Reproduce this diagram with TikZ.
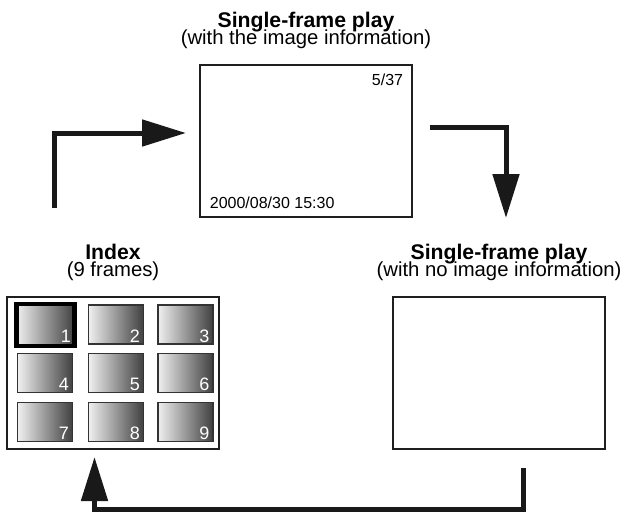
\documentclass[tikz,border=0pt]{standalone}
\usepackage{fontspec}
\setmainfont{Liberation Sans}
\usetikzlibrary{positioning,arrows.meta}

\begin{document}
\begin{tikzpicture}[
  x=1pt,y=-1pt,
  font=\fontsize{16}{19}\selectfont,
  screen/.style={draw=black!88,line width=2.6pt,minimum width=212pt,minimum height=152pt,inner sep=0pt},
  thumb/.style={draw=black!80,line width=1.4pt,left color=black!6,right color=black!75,minimum width=55pt,minimum height=39pt,inner sep=0pt,outer sep=0pt},
  thumbSel/.style={thumb,draw=black,line width=4.2pt,minimum width=58pt,minimum height=42pt},
  thumbNum/.style={anchor=south east,inner xsep=3.5pt,inner ysep=1.5pt,white,font=\fontsize{18}{20}\selectfont},
  caption/.style={align=center,inner sep=0pt,font=\fontsize{20.3}{17}\selectfont\setlength\lineskiplimit{-20pt}},
  info/.style={inner sep=0pt},
  flow/.style={draw=black!90,line width=5pt,-{Triangle[length=44pt,width=26pt]}}
]
\useasboundingbox (0,0) rectangle (632,512);
\node[screen] (play) at (306,141) {};
\node[screen] (plain) at (499,373) {};
\node[screen] (index) at (113,373) {};
\node[caption,above=15pt of play] (playCap) {{\bfseries\fontsize{21.2}{17}\selectfont Single-frame play}\\(with the image information)};
\node[caption,above=15pt of plain] (plainCap) {{\bfseries\fontsize{21.2}{17}\selectfont Single-frame play}\\(with no image information)};
\node[caption,above=15pt of index] (indexCap) {{\bfseries\fontsize{21.2}{17}\selectfont Index}\\(9 frames)};
\node[info,below left=10pt and 10pt of play.north east] (frameNo) {5/37};
\node[info,above right=9pt and 11pt of play.south west] (stamp) {2000/08/30 15:30};
\node[thumbSel] (t1) at (45.5,325) {};
\node[thumb] (t2) at (116,324.5) {};
\node[thumb] (t3) at (185.5,324.5) {};
\node[thumb] (t4) at (45.2,373) {};
\node[thumb] (t5) at (116,373) {};
\node[thumb] (t6) at (185.5,373) {};
\node[thumb] (t7) at (45.2,422) {};
\node[thumb] (t8) at (116,422) {};
\node[thumb] (t9) at (185.5,422) {};
\node[thumbNum,yshift=2pt] (n1) at (t1.south east) {1};
\node[thumbNum] (n2) at (t2.south east) {2};
\node[thumbNum] (n3) at (t3.south east) {3};
\node[thumbNum] (n4) at (t4.south east) {4};
\node[thumbNum] (n5) at (t5.south east) {5};
\node[thumbNum] (n6) at (t6.south east) {6};
\node[thumbNum] (n7) at (t7.south east) {7};
\node[thumbNum] (n8) at (t8.south east) {8};
\node[thumbNum] (n9) at (t9.south east) {9};
\coordinate (upStart) at (54,208);
\coordinate (upEnd) at (186,133);
\draw[flow] (upStart) |- (upEnd);
\coordinate (downStart) at (430,127);
\coordinate (downEnd) at (506,218);
\draw[flow] (downStart) -| (downEnd);
\coordinate (backStart) at (523.5,468);
\coordinate (backCorner) at (523.5,509.5);
\coordinate (backEnd) at (94.5,457);
\draw[flow] (backStart) -- (backCorner) -| (backEnd);
\end{tikzpicture}
\end{document}
